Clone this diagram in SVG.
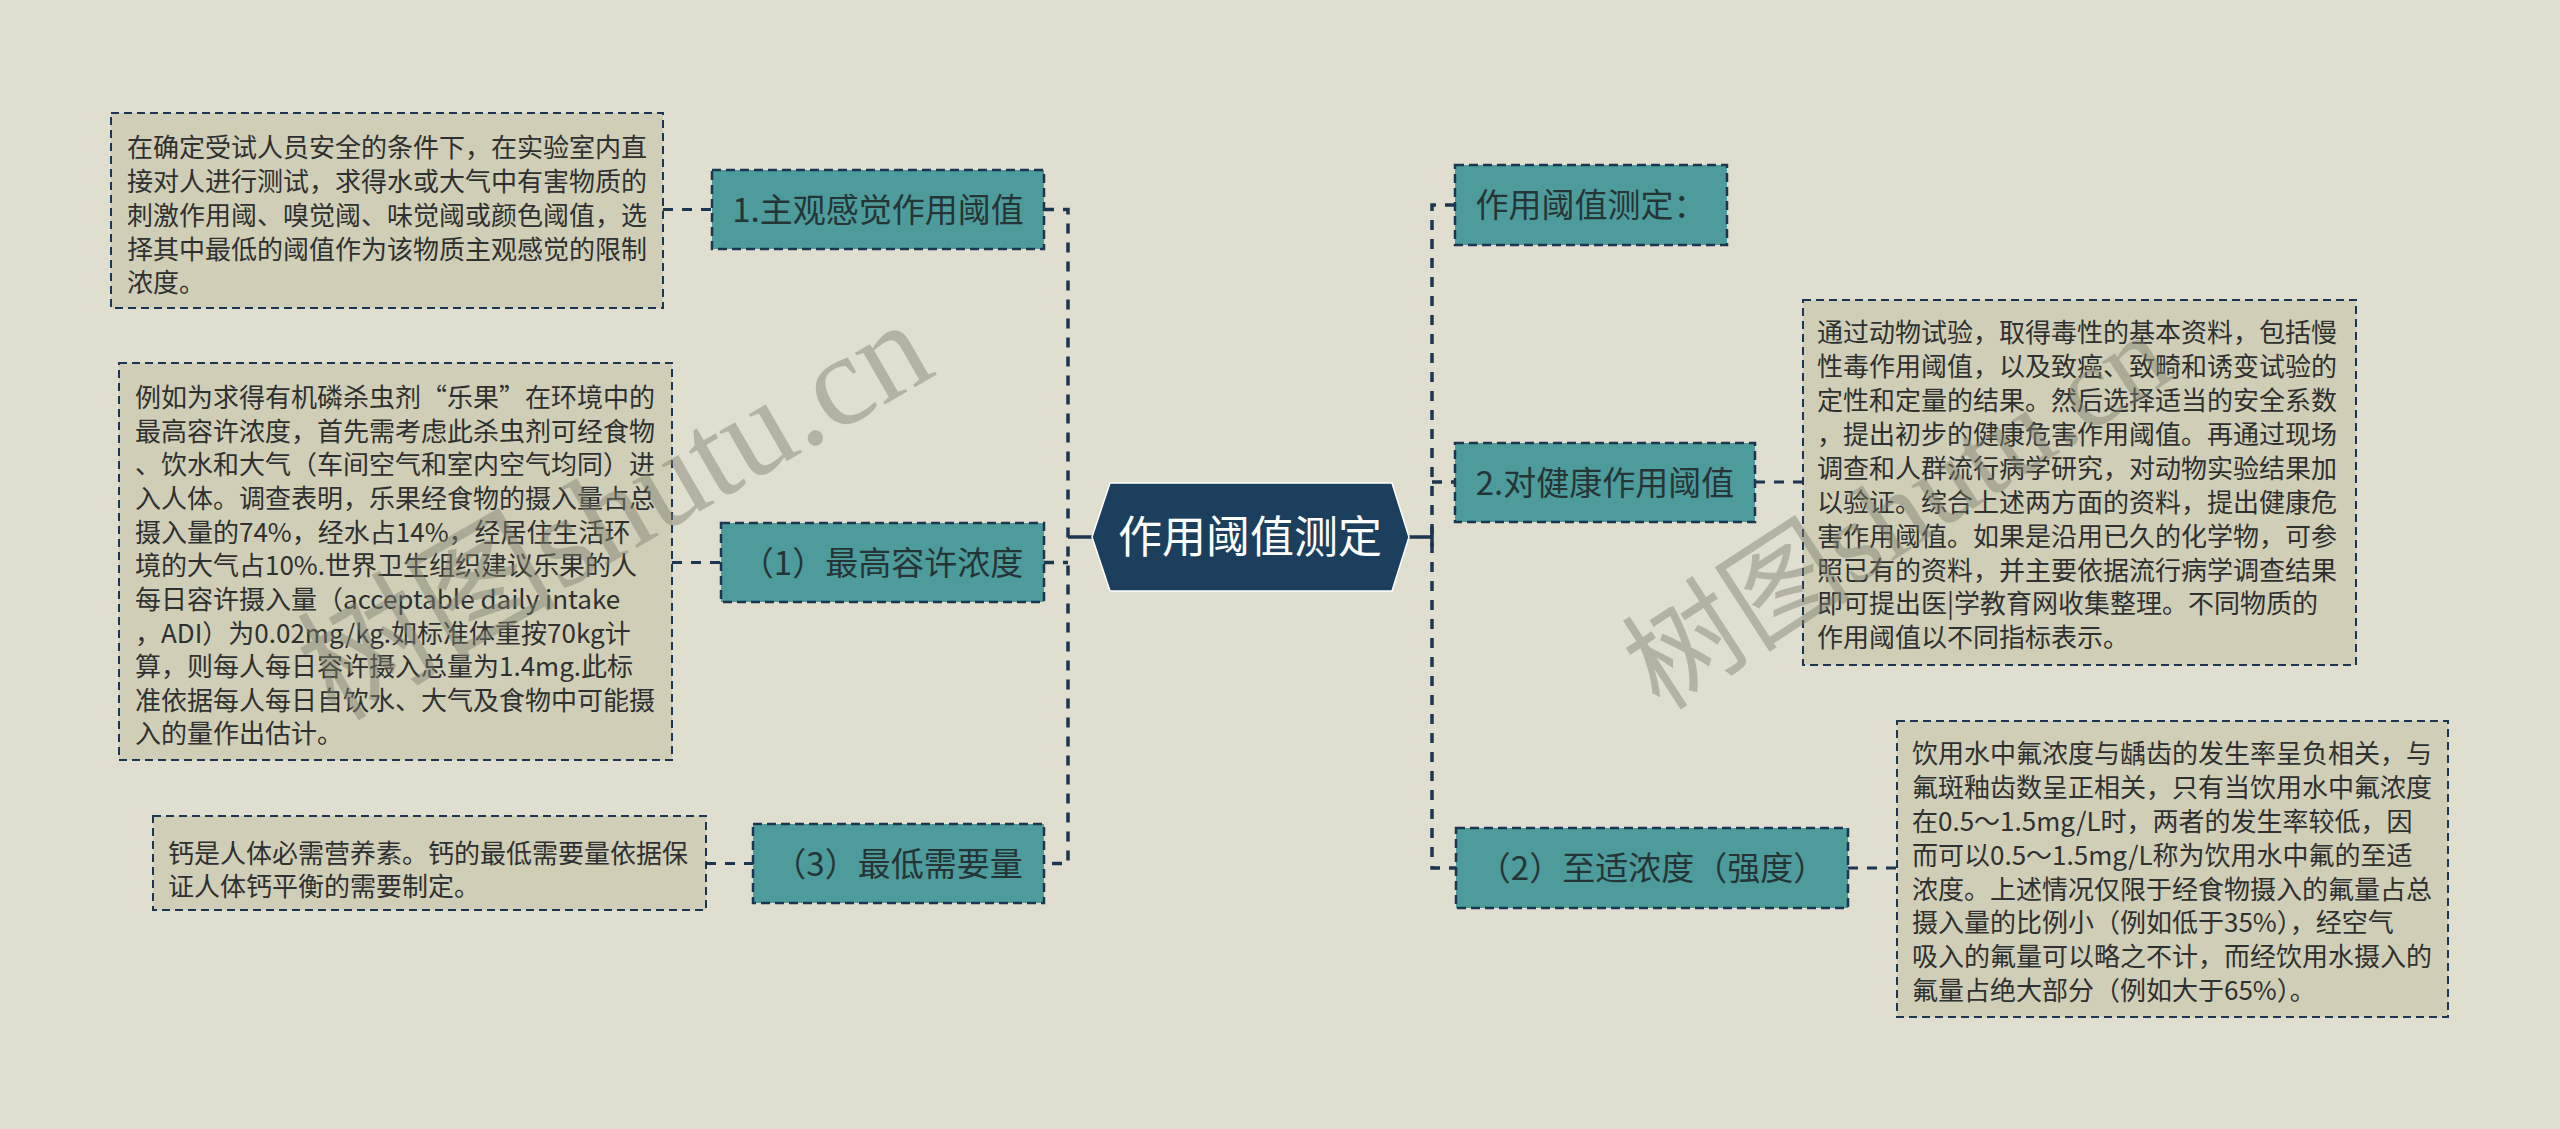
<svg xmlns="http://www.w3.org/2000/svg" width="2560" height="1129" viewBox="0 0 2560 1129">
<defs>
<style>
.bg{fill:#dfdecf}
.box{fill:#d0ceb6;stroke:#1c3550;stroke-width:2;stroke-dasharray:8 5}
.node{fill:#4e9b9b;stroke:#1c3550;stroke-width:2.5;stroke-dasharray:9 5}
.root{fill:#1c3f5e;stroke:#ffffff;stroke-width:1.5}
.conn{fill:none;stroke:#1c3550;stroke-width:3.5;stroke-dasharray:10 9}
.conn-thin{fill:none;stroke:#1c3550;stroke-width:3;stroke-dasharray:10 9}
.solid{fill:none;stroke:#1c3550;stroke-width:3.5}
.bt{font-family:"Noto Sans CJK SC","Noto Sans",sans-serif;font-size:26px;fill:#2f3030}
.nt{font-family:"Noto Sans CJK SC","Noto Sans",sans-serif;font-size:33px;fill:#253535;text-anchor:middle}
.rt{font-family:"Noto Sans CJK SC","Noto Sans",sans-serif;font-size:44px;fill:#ffffff;text-anchor:middle}
.wm{font-family:"Liberation Serif","Noto Sans CJK SC",serif;fill:#7f7f70;opacity:0.45}
</style>
</defs>
<rect class="bg" x="0" y="0" width="2560" height="1129"/>

<g id="connectors">
<path class="solid" d="M1092,537 H1068"/>
<path class="conn" d="M1044,209.5 H1068 V863.5 H1044 M1044,562.5 H1068"/>
<path class="conn-thin" d="M663,209.5 H712 M672,562.5 H721 M706,863.5 H753"/>
<path class="solid" d="M1409,537 H1432 M1432,527 V547"/>
<path class="conn" d="M1455,205 H1432 V868 H1456 M1432,482 H1455"/>
<path class="conn-thin" d="M1755,482 H1803 M1848,868 H1897"/>
</g>

<g id="root">
<polygon class="root" points="1092,537 1110,483 1392,483 1409,537 1392,591 1110,591"/>
<text class="rt" x="1250" y="553">作用阈值测定</text>
</g>

<g id="node-l1">
<rect class="node" x="712" y="170" width="332" height="79"/>
<text class="nt" x="878" y="222">1.主观感觉作用阈值</text>
</g>
<g id="box-l1">
<rect class="box" x="111" y="113" width="552" height="195"/>
<text class="bt" x="127" y="157">在确定受试人员安全的条件下，在实验室内直</text>
<text class="bt" x="127" y="191">接对人进行测试，求得水或大气中有害物质的</text>
<text class="bt" x="127" y="225">刺激作用阈、嗅觉阈、味觉阈或颜色阈值，选</text>
<text class="bt" x="127" y="259">择其中最低的阈值作为该物质主观感觉的限制</text>
<text class="bt" x="127" y="292">浓度。</text>
</g>

<g id="node-l2">
<rect class="node" x="721" y="523" width="323" height="79"/>
<text class="nt" x="882" y="575">（1）最高容许浓度</text>
</g>
<g id="box-l2">
<rect class="box" x="119" y="363" width="553" height="397"/>
<text class="bt" x="135" y="407">例如为求得有机磷杀虫剂“乐果”在环境中的</text>
<text class="bt" x="135" y="441">最高容许浓度，首先需考虑此杀虫剂可经食物</text>
<text class="bt" x="135" y="474">、饮水和大气（车间空气和室内空气均同）进</text>
<text class="bt" x="135" y="508">入人体。调查表明，乐果经食物的摄入量占总</text>
<text class="bt" x="135" y="542">摄入量的74%，经水占14%，经居住生活环</text>
<text class="bt" x="135" y="575">境的大气占10%.世界卫生组织建议乐果的人</text>
<text class="bt" x="135" y="609">每日容许摄入量（acceptable daily intake</text>
<text class="bt" x="135" y="643">，ADI）为0.02mg/kg.如标准体重按70kg计</text>
<text class="bt" x="135" y="676">算，则每人每日容许摄入总量为1.4mg.此标</text>
<text class="bt" x="135" y="710">准依据每人每日自饮水、大气及食物中可能摄</text>
<text class="bt" x="135" y="743">入的量作出估计。</text>
</g>

<g id="node-l3">
<rect class="node" x="753" y="824" width="291" height="79"/>
<text class="nt" x="898" y="876">（3）最低需要量</text>
</g>
<g id="box-l3">
<rect class="box" x="153" y="816" width="553" height="94"/>
<text class="bt" x="168" y="863">钙是人体必需营养素。钙的最低需要量依据保</text>
<text class="bt" x="168" y="896">证人体钙平衡的需要制定。</text>
</g>

<g id="node-r1">
<rect class="node" x="1455" y="165" width="272" height="80"/>
<text class="nt" x="1591" y="217">作用阈值测定：</text>
</g>

<g id="node-r2">
<rect class="node" x="1455" y="443" width="300" height="79"/>
<text class="nt" x="1605" y="495">2.对健康作用阈值</text>
</g>
<g id="box-r2">
<rect class="box" x="1803" y="300" width="553" height="365"/>
<text class="bt" x="1817" y="342">通过动物试验，取得毒性的基本资料，包括慢</text>
<text class="bt" x="1817" y="376">性毒作用阈值，以及致癌、致畸和诱变试验的</text>
<text class="bt" x="1817" y="410">定性和定量的结果。然后选择适当的安全系数</text>
<text class="bt" x="1817" y="444">，提出初步的健康危害作用阈值。再通过现场</text>
<text class="bt" x="1817" y="478">调查和人群流行病学研究，对动物实验结果加</text>
<text class="bt" x="1817" y="512">以验证。综合上述两方面的资料，提出健康危</text>
<text class="bt" x="1817" y="546">害作用阈值。如果是沿用已久的化学物，可参</text>
<text class="bt" x="1817" y="580">照已有的资料，并主要依据流行病学调查结果</text>
<text class="bt" x="1817" y="613">即可提出医|学教育网收集整理。不同物质的</text>
<text class="bt" x="1817" y="647">作用阈值以不同指标表示。</text>
</g>

<g id="node-r3">
<rect class="node" x="1456" y="828" width="392" height="80"/>
<text class="nt" x="1652" y="880">（2）至适浓度（强度）</text>
</g>
<g id="box-r3">
<rect class="box" x="1897" y="721" width="551" height="296"/>
<text class="bt" x="1912" y="763">饮用水中氟浓度与龋齿的发生率呈负相关，与</text>
<text class="bt" x="1912" y="797">氟斑釉齿数呈正相关，只有当饮用水中氟浓度</text>
<text class="bt" x="1912" y="831">在0.5～1.5mg/L时，两者的发生率较低，因</text>
<text class="bt" x="1912" y="865">而可以0.5～1.5mg/L称为饮用水中氟的至适</text>
<text class="bt" x="1912" y="899">浓度。上述情况仅限于经食物摄入的氟量占总</text>
<text class="bt" x="1912" y="932">摄入量的比例小（例如低于35%），经空气</text>
<text class="bt" x="1912" y="966">吸入的氟量可以略之不计，而经饮用水摄入的</text>
<text class="bt" x="1912" y="1000">氟量占绝大部分（例如大于65%）。</text>
</g>

<g id="watermarks">
<text class="wm" font-size="130" transform="translate(335,722) rotate(-30)">树图shutu.cn</text>
<text class="wm" font-size="115" transform="translate(1660,712) rotate(-33)">树图shutu.cn</text>
</g>
</svg>
